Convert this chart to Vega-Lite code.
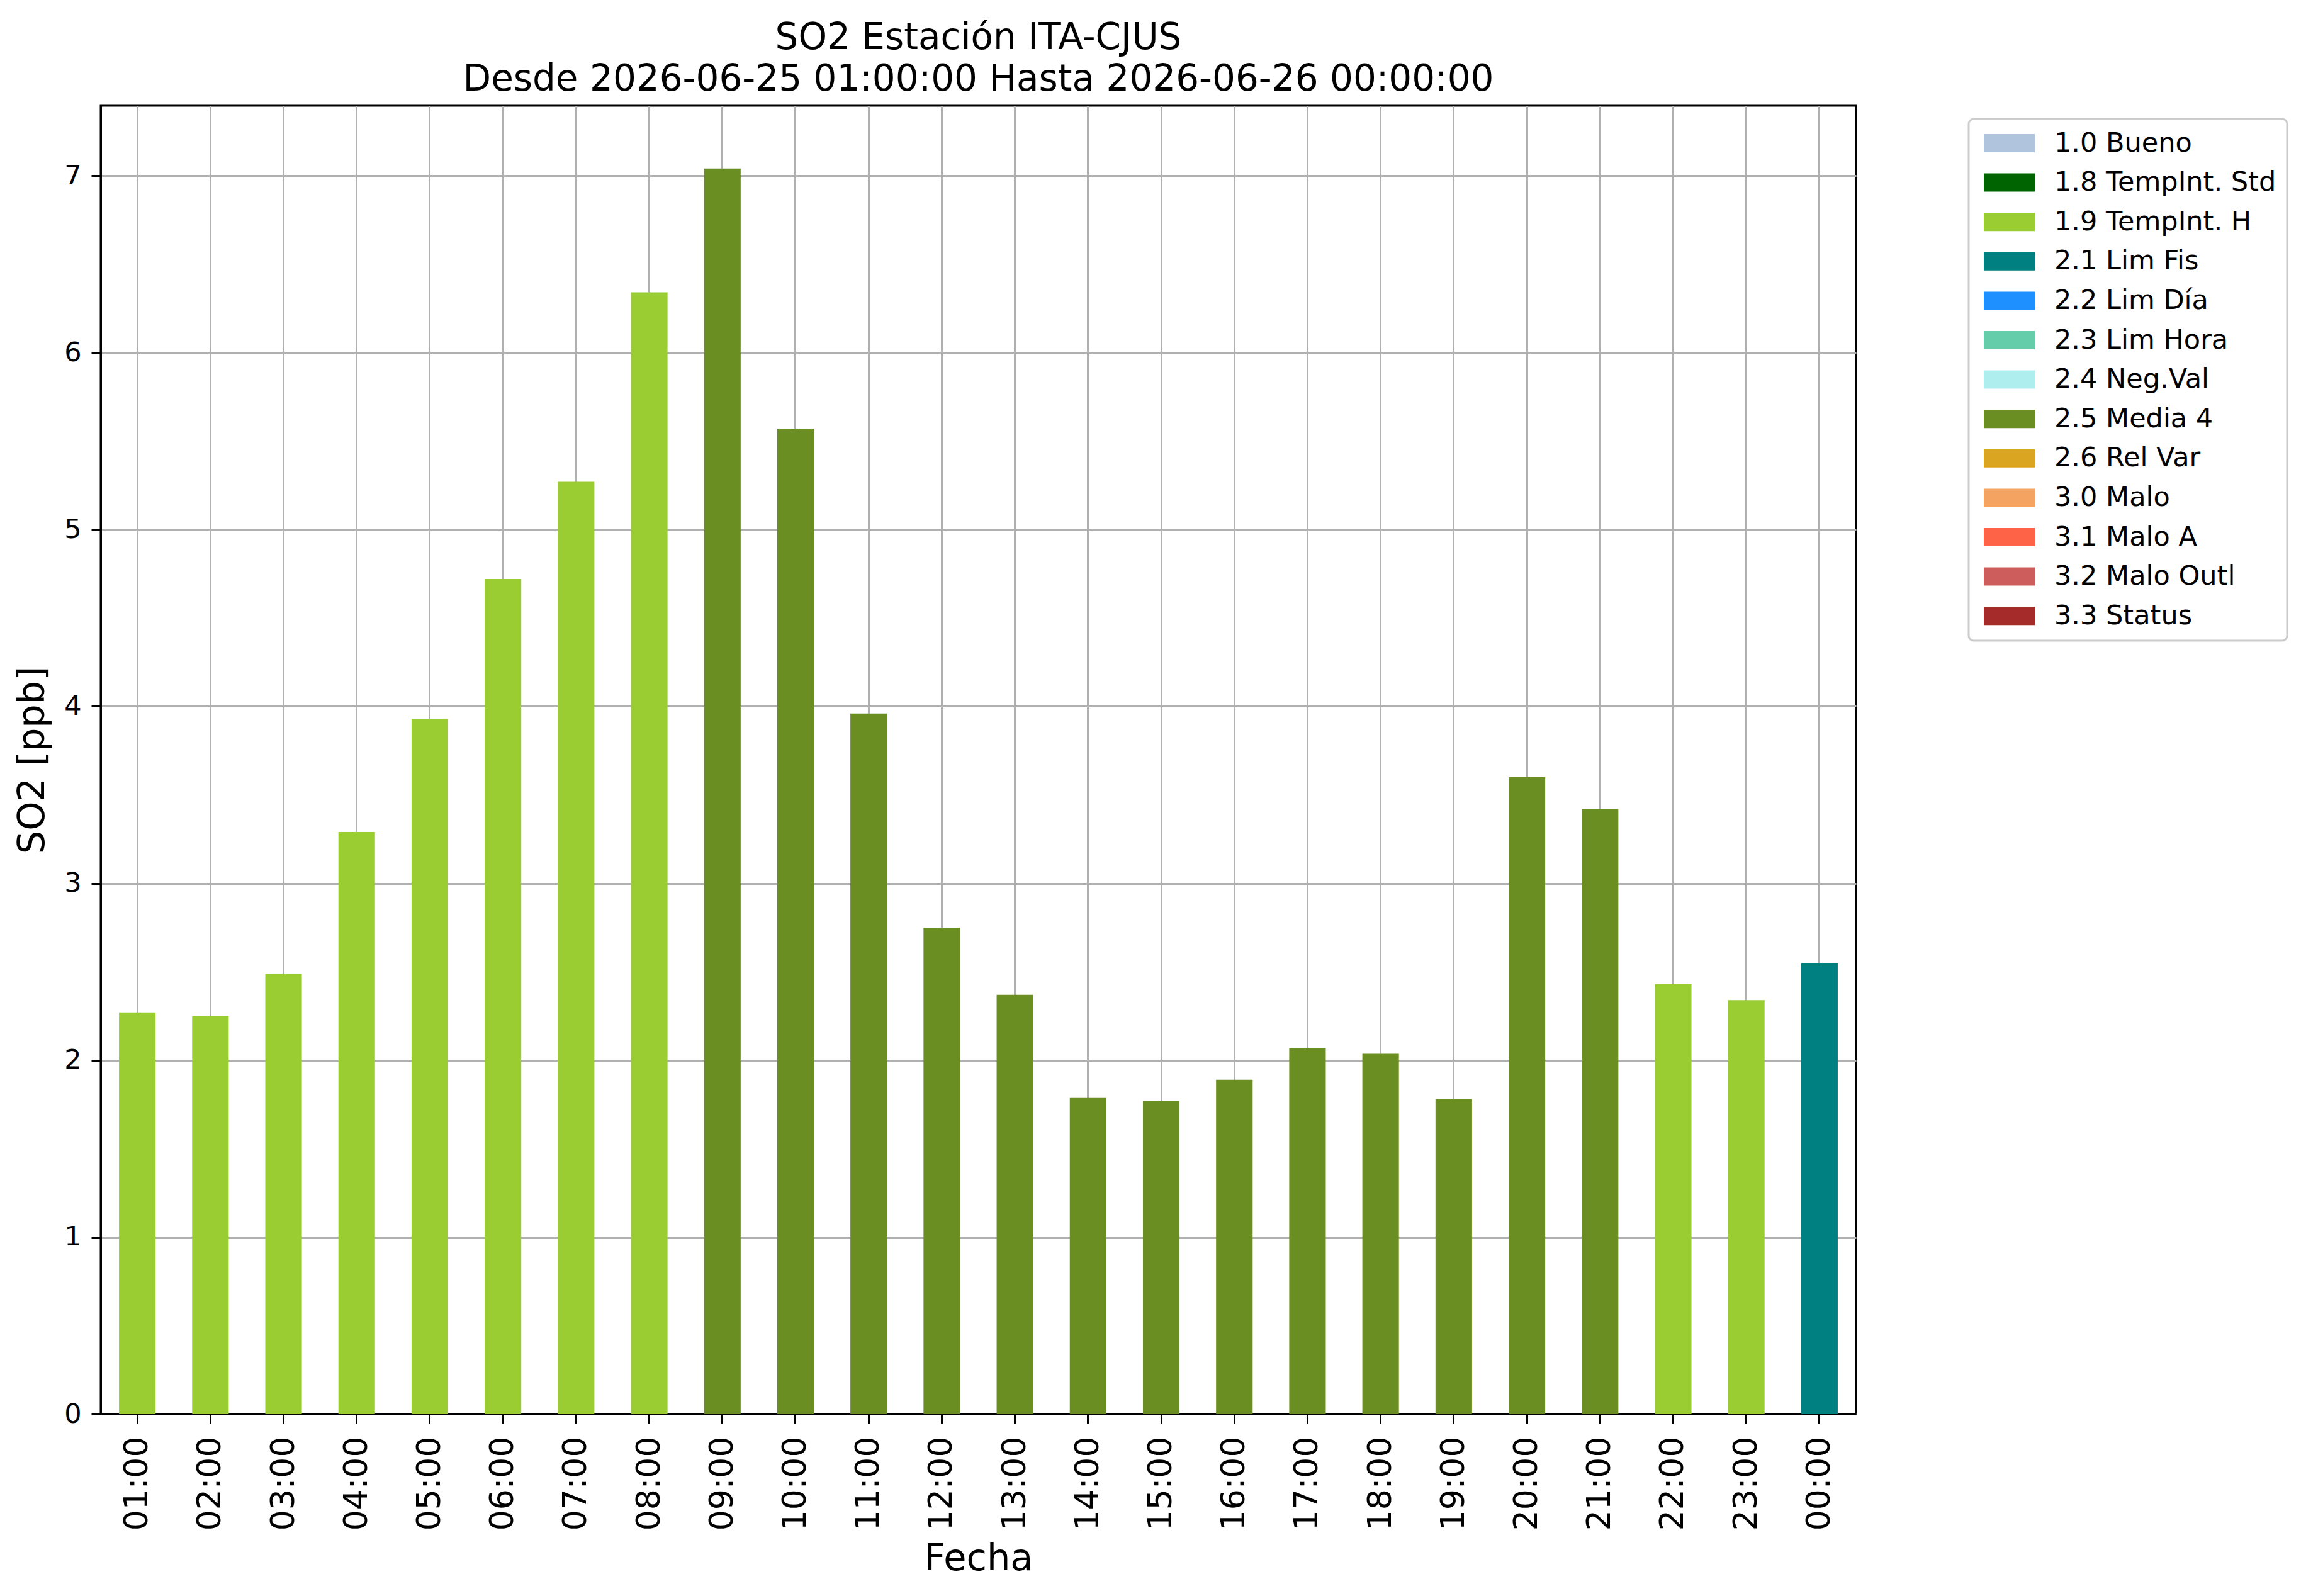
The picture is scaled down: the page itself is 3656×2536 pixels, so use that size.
{
  "$schema": "https://vega.github.io/schema/vega-lite/v6.json",
  "autosize": "none",
  "padding": {"left": 160, "top": 168, "right": 707, "bottom": 289},
  "width": 2789,
  "height": 2079,
  "background": "white",
  "title": {
    "text": ["SO2 Estación ITA-CJUS", "Desde 2026-06-25 01:00:00 Hasta 2026-06-26 00:00:00"],
    "font": "DejaVu Sans",
    "fontSize": 58,
    "fontWeight": "normal",
    "color": "black",
    "lineHeight": 66,
    "anchor": "middle",
    "offset": 12
  },
  "data": {
    "values": [
      {"Hora": "01:00", "SO2": 2.27, "Flag": "1.9 TempInt. H"},
      {"Hora": "02:00", "SO2": 2.25, "Flag": "1.9 TempInt. H"},
      {"Hora": "03:00", "SO2": 2.49, "Flag": "1.9 TempInt. H"},
      {"Hora": "04:00", "SO2": 3.29, "Flag": "1.9 TempInt. H"},
      {"Hora": "05:00", "SO2": 3.93, "Flag": "1.9 TempInt. H"},
      {"Hora": "06:00", "SO2": 4.72, "Flag": "1.9 TempInt. H"},
      {"Hora": "07:00", "SO2": 5.27, "Flag": "1.9 TempInt. H"},
      {"Hora": "08:00", "SO2": 6.34, "Flag": "1.9 TempInt. H"},
      {"Hora": "09:00", "SO2": 7.04, "Flag": "2.5 Media 4"},
      {"Hora": "10:00", "SO2": 5.57, "Flag": "2.5 Media 4"},
      {"Hora": "11:00", "SO2": 3.96, "Flag": "2.5 Media 4"},
      {"Hora": "12:00", "SO2": 2.75, "Flag": "2.5 Media 4"},
      {"Hora": "13:00", "SO2": 2.37, "Flag": "2.5 Media 4"},
      {"Hora": "14:00", "SO2": 1.79, "Flag": "2.5 Media 4"},
      {"Hora": "15:00", "SO2": 1.77, "Flag": "2.5 Media 4"},
      {"Hora": "16:00", "SO2": 1.89, "Flag": "2.5 Media 4"},
      {"Hora": "17:00", "SO2": 2.07, "Flag": "2.5 Media 4"},
      {"Hora": "18:00", "SO2": 2.04, "Flag": "2.5 Media 4"},
      {"Hora": "19:00", "SO2": 1.78, "Flag": "2.5 Media 4"},
      {"Hora": "20:00", "SO2": 3.60, "Flag": "2.5 Media 4"},
      {"Hora": "21:00", "SO2": 3.42, "Flag": "2.5 Media 4"},
      {"Hora": "22:00", "SO2": 2.43, "Flag": "1.9 TempInt. H"},
      {"Hora": "23:00", "SO2": 2.34, "Flag": "1.9 TempInt. H"},
      {"Hora": "00:00", "SO2": 2.55, "Flag": "2.1 Lim Fis"}
    ]
  },
  "mark": "bar",
  "encoding": {
    "x": {
      "field": "Hora",
      "type": "ordinal",
      "sort": null,
      "title": "Fecha",
      "scale": {"paddingInner": 0.5, "paddingOuter": 0.25},
      "axis": {
        "grid": true,
        "bandPosition": 0.5,
        "labelAngle": 270,
        "labelAlign": "right",
        "labelBaseline": "middle",
        "labelPadding": 20,
        "labelFontSize": 52,
        "titlePadding": 16
      }
    },
    "y": {
      "field": "SO2",
      "type": "quantitative",
      "title": "SO2 [ppb]",
      "scale": {"domain": [0, 7.395], "nice": false},
      "axis": {
        "grid": true,
        "values": [0, 1, 2, 3, 4, 5, 6, 7],
        "format": "d",
        "labelFontSize": 43,
        "labelPadding": 16,
        "titlePadding": 20
      }
    },
    "color": {
      "field": "Flag",
      "type": "nominal",
      "title": null,
      "scale": {
        "domain": ["1.0 Bueno", "1.8 TempInt. Std", "1.9 TempInt. H", "2.1 Lim Fis", "2.2 Lim Día", "2.3 Lim Hora", "2.4 Neg.Val", "2.5 Media 4", "2.6 Rel Var", "3.0 Malo", "3.1 Malo A", "3.2 Malo Outl", "3.3 Status"],
        "range": ["#b0c4de", "#006400", "#9acd32", "#008080", "#1e90ff", "#66cdaa", "#afeeee", "#6b8e23", "#daa520", "#f4a460", "#ff6347", "#cd5c5c", "#a52a2a"]
      },
      "legend": {
        "orient": "none",
        "legendX": 2968,
        "legendY": 21,
        "padding": 17,
        "strokeColor": "#cccccc",
        "cornerRadius": 8,
        "fillColor": "white",
        "symbolType": "M-1,-1H4.6V1H-1Z",
        "symbolSize": 841,
        "symbolStrokeWidth": 0,
        "symbolOpacity": 1,
        "labelFont": "DejaVu Sans",
        "labelFontSize": 43,
        "labelColor": "black",
        "labelOffset": 76,
        "labelLimit": 0,
        "rowPadding": 18.6
      }
    }
  },
  "config": {
    "font": "DejaVu Sans",
    "view": {"stroke": "black", "strokeWidth": 3},
    "legend": {"strokeWidth": 3},
    "axis": {
      "zindex": 1,
      "gridColor": "#b0b0b0",
      "gridWidth": 3,
      "gridOpacity": 1,
      "domainColor": "black",
      "domainWidth": 3,
      "tickColor": "black",
      "tickWidth": 3,
      "tickSize": 15,
      "labelFont": "DejaVu Sans",
      "labelColor": "black",
      "titleFont": "DejaVu Sans",
      "titleFontSize": 59,
      "titleFontWeight": "normal",
      "titleColor": "black"
    }
  }
}
